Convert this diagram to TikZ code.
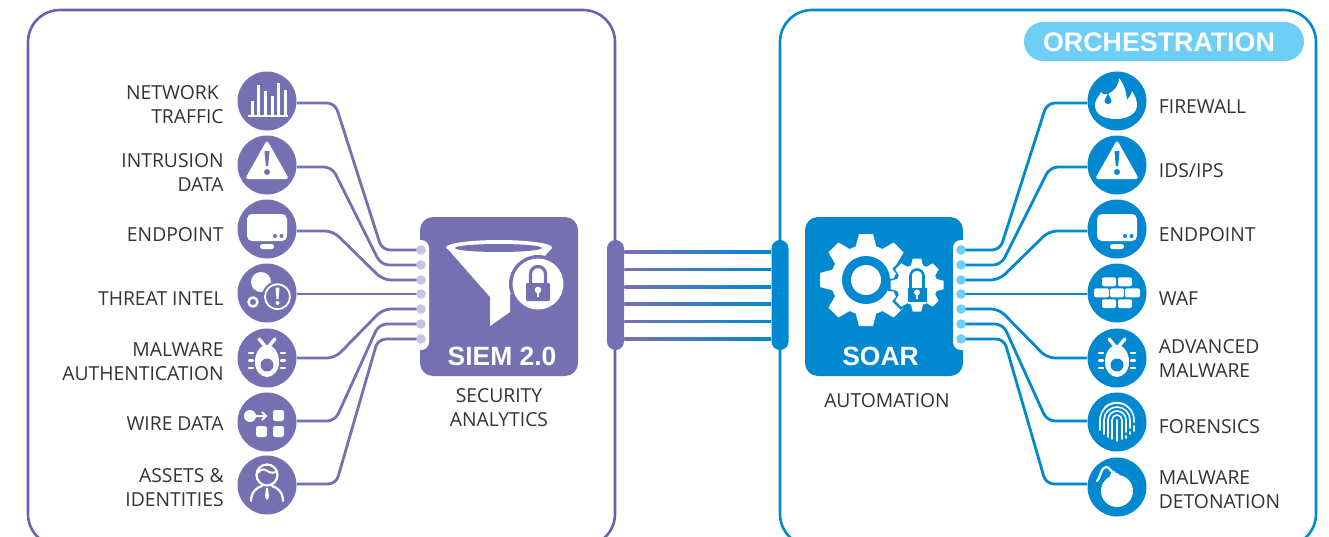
\documentclass[tikz,border=0pt]{standalone}
\usepackage{fontspec}
\setmainfont{Open Sans}
\newfontfamily\headfont{Liberation Sans}
\usetikzlibrary{calc}
\definecolor{siem}{HTML}{7670B3}
\definecolor{siemedge}{HTML}{6664B2}
\definecolor{siemdot}{HTML}{CBC2E1}
\definecolor{soar}{HTML}{0089D0}
\definecolor{soardot}{HTML}{6DCFF6}
\definecolor{labelcol}{HTML}{333333}
\tikzset{
  panel/.style={draw,line width=1.3pt,fill=white,rounded corners=16pt,inner sep=0pt,minimum width=#1,minimum height=268pt},
  icondisc/.style={circle,fill=#1,inner sep=0pt,minimum size=29.5pt},
  busbar/.style={rectangle,fill=#1,rounded corners=4.2pt,inner sep=0pt,minimum width=8.5pt,minimum height=55pt},
  mainbox/.style={rectangle,fill=#1,rounded corners=6.5pt,inner sep=0pt,minimum width=79pt,minimum height=79.5pt},
  portdot/.style={circle,fill=#1,inner sep=0pt,minimum size=4.8pt},
  conn/.style={draw=#1,line width=1.4pt,rounded corners=4pt},
  lbl/.style={text=labelcol,font=\fontsize{9.65}{12}\selectfont,inner sep=0pt},
  lbll/.style={lbl,anchor=east,align=right},
  lblr/.style={lbl,anchor=west,align=left},
  lblc/.style={lbl,align=center},
  headtext/.style={text=white,font=\headfont\bfseries\fontsize{13.2}{15}\selectfont,inner sep=0pt},
}
\newcommand\iconbars{%
    \draw[white,line width=1.2pt] (-19,15)--(21,15);
    \foreach \xx/\tt in {-15/0,-9/-16,-2/-10,5/-5,11/-18,18/-11}
      \draw[white,line width=1.5pt] (\xx,15)--(\xx,\tt);
}
\newcommand\iconwarn{%
    \fill[white,rounded corners=1.5pt] (0,-25)--(22,14)--(-22,14)--cycle;
    \fill[cutcol] (-2.5,-14)--(2.5,-14)--(1.2,1)--(-1.2,1)--cycle;
    \fill[cutcol] (0,7) circle[radius=3];
}
\newcommand\iconmonitor{%
    \fill[white,rounded corners=2.5pt] (-20,-15) rectangle (20,12);
    \fill[cutcol] (8,7) circle[radius=2] (14.5,7) circle[radius=2];
    \fill[white,rounded corners=1.2pt] (-7,15) rectangle (7,20);
}
\newcommand\iconthreat{%
    \fill[white] (-6,-11) circle[radius=10];
    \fill[cutcol] (10.5,3.7) circle[radius=15.5];
    \draw[white,line width=.9pt] (10.5,3.7) circle[radius=12.5];
    \fill[white] (8.5,-5.5)--(12.5,-5.5)--(11.5,6)--(9.5,6)--cycle;
    \fill[white] (10.5,10) circle[radius=2];
    \draw[white,line width=1.2pt] (-14,9) circle[radius=4.5];
}
\newcommand\iconbug{%
    \draw[white,line width=1.7pt,line cap=round] (-2,-12)--(-8,-19) (2,-12)--(8,-19);
    \fill[white] (0,-13) .. controls (7,-13) and (12,-5) .. (12,4)
      .. controls (12,13) and (6,19) .. (0,19)
      .. controls (-6,19) and (-12,13) .. (-12,4)
      .. controls (-12,-5) and (-7,-13) .. (0,-13) -- cycle;
    \fill[cutcol] (0,7) circle[radius=6.5];
    \draw[white,line width=1.1pt,line cap=round]
      (-18,-5)--(-14,-5) (-18,2.5)--(-14,2.5) (-18,10)--(-14,10)
      (14,-5)--(18,-5) (14,2.5)--(18,2.5) (14,10)--(18,10);
}
\newcommand\iconwire{%
    \fill[white] (-17,-6) circle[radius=6];
    \draw[white,line width=1pt] (-12,-6)--(-1,-6) (-5,-10)--(-1,-6)--(-5,-2);
    \fill[white,rounded corners=1.2pt] (6,-12) rectangle (17,-1);
    \fill[white,rounded corners=1.2pt] (-11,4) rectangle (0,15);
    \fill[white,rounded corners=1.2pt] (6,4) rectangle (17,15);
}
\newcommand\iconperson{%
    \draw[white,line width=1.1pt] (0,-10) circle[radius=10.5];
    \draw[white,line width=1pt] (-9,-12) .. controls (-5,-18) and (-1,-15) .. (2,-13) .. controls (4,-12) and (7,-12) .. (9,-13);
    \draw[white,line width=1.1pt,line cap=round] (-16,16) .. controls (-16,6) and (-9,2) .. (-5,1) (5,1) .. controls (9,2) and (16,6) .. (16,16);
    \fill[white] (-1,3)--(1,3)--(2,12)--(0,15)--(-2,12)--cycle;
}
\newcommand\iconflame{%
    \fill[white] (-1,18) .. controls (-14,18) and (-22,13) .. (-22,4)
      .. controls (-22,-2) and (-18,-4) .. (-16,-9)
      .. controls (-14,-6) and (-12,-6) .. (-9,-7)
      .. controls (-3,-10) and (2,-15) .. (2,-23)
      .. controls (7,-17) and (9,-10) .. (10,-1)
      .. controls (12,-3) and (14,-6) .. (15,-10)
      .. controls (18,-5) and (20,-1) .. (20,4)
      .. controls (20,13) and (10,18) .. (-1,18) -- cycle;
    \fill[cutcol] (-9,-8) .. controls (-8,-4) and (-5.5,-3) .. (-5.5,0)
      .. controls (-5.5,2) and (-7,3) .. (-9,3)
      .. controls (-11,3) and (-12.5,2) .. (-12.5,0)
      .. controls (-12.5,-3) and (-10,-4) .. (-9,-8) -- cycle;
}
\newcommand\iconbrick{%
    \foreach \xa/\xb/\ya/\yb in {-15/-1/-15.7/-6.7,1/15/-15.7/-6.7,-23/-8/-4.7/4.3,-7/7/-4.7/4.3,8/23/-4.7/4.3,-15/-1/6.3/15,1/15/6.3/15}
      \fill[white,rounded corners=1pt] (\xa,\ya) rectangle (\xb,\yb);
}
\newcommand\iconprint{%
    \begin{scope}[white,line width=.8pt,line cap=round]
    \draw (-12,-15) .. controls (-5,-21) and (6,-21) .. (12,-14);
    \draw (-17,8) -- (-17,-2) arc[start angle=180,end angle=360,radius=17] -- (17,0);
    \draw (17,4) -- (17,9);
    \draw (-13,12) -- (-13,-2) arc[start angle=180,end angle=360,radius=13] -- (13,6);
    \draw (-9,15) -- (-9,-2) arc[start angle=180,end angle=360,radius=9] -- (9,10);
    \draw (13,10) -- (13,12);
    \draw (-5,17) -- (-5,-2) arc[start angle=180,end angle=360,radius=5] -- (5,17);
    \draw (0,-2) -- (0,19);
    \draw (9,14) -- (9,16);
    \end{scope}
}
\newcommand\iconbomb{%
    \fill[white] (0,4) circle[radius=16];
    \fill[white,rotate around={-25:(-3,-13)}] (-6,-15) rectangle (2,-8);
    \draw[white,line width=1.1pt,line cap=round] (-20,-6) .. controls (-17,-8) and (-16,-20) .. (-11,-20) .. controls (-7,-20) and (-7,-15) .. (-3,-15);
}
\newcommand\placeicon[2]{\begin{scope}[shift={(#1)}]#2\end{scope}}
\begin{document}
\begin{tikzpicture}[x=0.5pt,y=-0.5pt]
\useasboundingbox (0,0) rectangle (1329,536);
\clip (0,0) rectangle (1329,536);
\fill[white] (0,0) rectangle (1329,536);
% panels
\node[panel=293.5pt,draw=siemedge] (leftpanel) at (321.5,278) {};
\node[panel=268pt,draw=soar] (rightpanel) at (1048,278) {};
% orchestration
\node[fill=soardot,rounded corners=9.7pt,inner sep=0pt,minimum width=140pt,minimum height=19.5pt] (orchpill) at (1164,41.5) {};
\node[headtext,font=\headfont\bfseries\fontsize{13.4}{15}\selectfont] (orch) at (1159,42) {ORCHESTRATION};
% central boxes
\node[mainbox=siem] (siembox) at (499,296.5) {};
\node[mainbox=soar] (soarbox) at (884,296.5) {};
\fill[white,rounded corners=4pt] (405,240) rectangle (429,350);
\fill[white,rounded corners=4pt] (953,240) rectangle (977,350);
% buses
\node[busbar=siem] (busl) at (615.5,295) {};
\node[busbar=soar] (busr) at (780,295) {};
\foreach \yy in {252,269.5,287,304,321.5,339}
  \shade[left color=siem,right color=soar] (busl.east |- 0,\yy-1.15) rectangle (busr.west |- 0,\yy+1.15);
% icon discs
\foreach \i/\yy in {1/101,2/165,3/229,4/293,5/358,6/422,7/485}
  \node[icondisc=siem] (ic\i) at (267,\yy) {};
\foreach \i/\yy in {1/101,2/165,3/229,4/293,5/358,6/422,7/487}
  \node[icondisc=soar] (rc\i) at (1117,\yy) {};
% port dots positions
\foreach \i/\yy in {1/250,2/265,3/280,4/294,5/309,6/324,7/339}{
  \coordinate (dl\i) at (421,\yy);
  \coordinate (dr\i) at (961,\yy);
}
% connectors
\foreach \i/\ya/\xa/\xb in {1/103/335/382,2/167/332/381,3/231/333/383,5/358/335/383,6/421/335/379,7/484/336/378}
  \draw[conn=siem] (ic\i.east |- 0,\ya) -- (\xa,\ya) -- (\xb,0 |- dl\i) -- (dl\i);
\draw[conn=siem] (ic4.east |- dl4) -- (dl4);
\foreach \i/\ya/\xa/\xb in {1/103/1047/1000,2/167/1050/1001,3/231/1049/999,5/358/1047/999,6/421/1047/1003,7/484/1046/1004}
  \draw[conn=soar] (rc\i.west |- 0,\ya) -- (\xa,\ya) -- (\xb,0 |- dr\i) -- (dr\i);
\draw[conn=soar] (rc4.west |- dr4) -- (dr4);
\foreach \i in {1,...,7}{
  \node[portdot=siemdot] (pl\i) at (dl\i) {};
  \node[portdot=soardot] (pr\i) at (dr\i) {};
}
% left icons
\begin{scope}
\colorlet{cutcol}{siem}
\placeicon{ic1.center}{\iconbars}
\placeicon{ic2.center}{\iconwarn}
\placeicon{ic3.center}{\iconmonitor}
\placeicon{ic4.center}{\iconthreat}
\placeicon{ic5.center}{\iconbug}
\placeicon{ic6.center}{\iconwire}
\placeicon{ic7.center}{\iconperson}
% funnel
\fill[white] (447,248) -- (490,297) -- (490,326) -- (510,312) -- (510,295) -- (552,248) -- cycle;
\fill[white] (499,247.5) ellipse[x radius=53,y radius=7.5];
\fill[siem] (498.5,248) ellipse[x radius=43.5,y radius=4];
\fill[siem] (538,284) circle[radius=29];
\fill[white] (538,284) circle[radius=25.5];
\draw[siem,line width=1.6pt] (530.5,284) -- (530.5,274) arc[start angle=180,end angle=360,radius=7.5] -- (545.5,284);
\fill[siem,rounded corners=.6pt] (526,283) rectangle (550,301);
\fill[white] (538,290) circle[radius=3.3];
\fill[white] (536.8,290) rectangle (539.2,297);
\end{scope}
% right icons
\begin{scope}
\colorlet{cutcol}{soar}
\placeicon{rc1.center}{\iconflame}
\placeicon{rc2.center}{\iconwarn}
\placeicon{rc3.center}{\iconmonitor}
\placeicon{rc4.center}{\iconbrick}
\placeicon{rc5.center}{\iconbug}
\placeicon{rc6.center}{\iconprint}
\placeicon{rc7.center}{\iconbomb}
% big gear
\begin{scope}[shift={(866,280)}]
  \foreach \a in {0,45,...,315}
    \fill[white,rotate=\a] (-11,-31) -- (-7,-46) -- (7,-46) -- (11,-31) -- cycle;
  \fill[white] (0,0) circle[radius=35];
  \fill[soar] (0,0) circle[radius=24];
  \fill[white] (0,0) circle[radius=15];
\end{scope}
% small gear
\begin{scope}[shift={(917,285)}]
  \foreach \a in {0,45,...,315}
    \fill[soar,rotate=\a] (-7,-18) -- (-6,-29) -- (6,-29) -- (7,-18) -- cycle;
  \fill[soar] (0,0) circle[radius=24];
  \foreach \a in {0,45,...,315}
    \fill[white,rotate=\a] (-6.5,-18) -- (-4.2,-26.5) -- (4.2,-26.5) -- (6.5,-18) -- cycle;
  \fill[white] (0,0) circle[radius=20.5];
  \draw[soar,line width=1.3pt] (-6.5,3) -- (-6.5,-9) arc[start angle=180,end angle=360,radius=6.5] -- (6.5,3);
  \fill[soar] (-9.5,3) rectangle (9.5,17);
  \fill[white] (0,7.5) circle[radius=3];
  \fill[white] (-1,7.5) rectangle (1,13.5);
\end{scope}
\end{scope}
% head text
\node[headtext] (siemtitle) at (502,356) {SIEM 2.0};
\node[headtext] (soartitle) at (880.5,356) {SOAR};
% left labels
\node[lbll] (t1) at (224,105) {NETWORK\hspace*{2.5pt}\\TRAFFIC};
\node[lbll] (t2) at (224,172) {INTRUSION\\DATA};
\node[lbll] (t3) at (224,235) {ENDPOINT};
\node[lbll] (t4) at (224,299) {THREAT INTEL};
\node[lbll] (t5) at (224,362) {MALWARE\\AUTHENTICATION};
\node[lbll] (t6) at (224,424) {WIRE DATA};
\node[lbll] (t7) at (224,488) {ASSETS \&\\IDENTITIES};
\node[lblc] (t8) at (499,408) {SECURITY\\ANALYTICS};
\node[lblc] (t9) at (887,401) {AUTOMATION};
% right labels
\node[lblr] (u1) at (1158.5,107) {FIREWALL};
\node[lblr] (u2) at (1158.5,171) {IDS/IPS};
\node[lblr] (u3) at (1158.5,235) {ENDPOINT};
\node[lblr] (u4) at (1158.5,299) {WAF};
\node[lblr] (u5) at (1158.5,359) {ADVANCED\\MALWARE};
\node[lblr] (u6) at (1158.5,427) {FORENSICS};
\node[lblr] (u7) at (1158.5,490) {MALWARE\\DETONATION};
\end{tikzpicture}
\end{document}
